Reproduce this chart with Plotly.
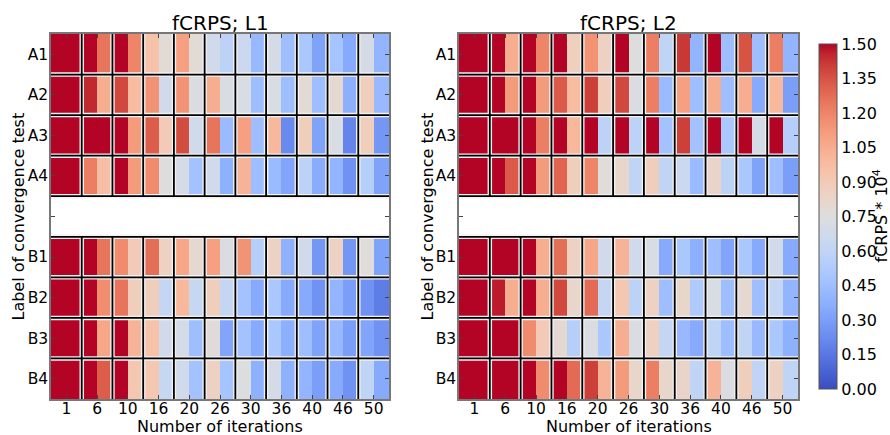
import plotly.graph_objects as go

iterations = ["1", "6", "10", "16", "20", "26", "30", "36", "40", "46", "50"]
row_labels = ["A1", "A2", "A3", "A4", "", "B1", "B2", "B3", "B4"]

# each list: two half-cells per iteration block (11 blocks -> 22 values)
l1_a1 = [1.6, 1.6, 1.55, 1.25, 1.55, 1.2, 0.95, 0.78, 1.1, 0.78, 0.68, 0.58, 0.65, 0.42, 0.7, 0.45, 0.5, 0.32, 0.48, 0.35, 0.7, 0.4]
l1_a2 = [1.6, 1.6, 1.45, 1.05, 1.38, 0.98, 1.15, 0.68, 1.15, 0.73, 1.05, 0.72, 0.72, 0.45, 0.72, 0.45, 0.78, 0.45, 0.8, 0.37, 0.88, 0.42]
l1_a3 = [1.6, 1.6, 1.6, 1.6, 1.55, 1.12, 1.32, 0.9, 1.37, 0.68, 1.25, 0.43, 1.1, 0.45, 1.0, 0.22, 0.88, 0.32, 0.72, 0.2, 0.88, 0.27]
l1_a4 = [1.6, 1.6, 1.22, 0.97, 1.55, 1.12, 1.18, 0.75, 0.7, 0.47, 0.68, 0.38, 1.02, 0.45, 0.43, 0.33, 0.58, 0.36, 0.4, 0.25, 0.55, 0.32]
l1_b1 = [1.6, 1.6, 1.55, 1.25, 1.18, 0.9, 1.27, 0.85, 1.08, 0.8, 1.1, 0.73, 1.15, 0.55, 0.85, 0.38, 0.68, 0.27, 0.85, 0.27, 0.76, 0.32]
l1_b2 = [1.6, 1.6, 1.55, 1.17, 1.25, 0.88, 0.88, 0.62, 1.0, 0.63, 0.88, 0.62, 0.47, 0.35, 0.5, 0.35, 0.35, 0.25, 0.4, 0.3, 0.25, 0.17]
l1_b3 = [1.6, 1.6, 1.55, 1.08, 1.55, 1.02, 0.95, 0.68, 0.7, 0.45, 0.77, 0.33, 0.47, 0.35, 0.5, 0.37, 0.45, 0.32, 0.42, 0.3, 0.33, 0.25]
l1_b4 = [1.6, 1.6, 1.55, 1.32, 1.55, 0.92, 0.92, 0.63, 0.68, 0.47, 0.85, 0.48, 0.74, 0.38, 0.7, 0.38, 0.4, 0.3, 0.35, 0.25, 0.6, 0.35]

l2_a1 = [1.6, 1.6, 1.55, 1.05, 1.55, 1.2, 1.55, 0.87, 1.15, 0.85, 1.55, 0.75, 1.22, 0.6, 1.42, 0.4, 1.55, 0.45, 1.35, 0.45, 1.22, 0.4]
l2_a2 = [1.6, 1.6, 1.55, 1.12, 1.55, 1.12, 1.33, 0.98, 1.4, 0.88, 1.38, 0.73, 1.22, 0.43, 1.1, 0.45, 1.05, 0.45, 1.05, 0.35, 1.0, 0.3]
l2_a3 = [1.6, 1.6, 1.6, 1.6, 1.55, 1.22, 1.55, 1.0, 1.55, 0.58, 1.55, 0.58, 1.55, 0.47, 1.4, 0.47, 1.55, 0.5, 1.55, 0.7, 1.55, 0.55]
l2_a4 = [1.6, 1.6, 1.55, 1.33, 1.55, 1.12, 1.3, 0.88, 1.2, 0.76, 0.82, 0.6, 0.88, 0.6, 0.65, 0.43, 0.83, 0.58, 0.5, 0.32, 0.45, 0.3]
l2_b1 = [1.6, 1.6, 1.6, 1.6, 1.55, 1.05, 1.27, 0.85, 1.08, 0.68, 1.02, 0.68, 0.72, 0.35, 0.5, 0.37, 0.45, 0.33, 0.5, 0.35, 0.68, 0.35]
l2_b2 = [1.6, 1.6, 1.47, 1.05, 1.55, 1.05, 1.38, 0.82, 1.28, 0.62, 0.92, 0.58, 0.85, 0.45, 0.82, 0.52, 0.72, 0.45, 0.8, 0.45, 0.62, 0.4]
l2_b3 = [1.6, 1.6, 1.6, 1.6, 1.18, 0.9, 0.8, 0.55, 0.73, 0.5, 1.05, 0.73, 0.86, 0.62, 0.42, 0.35, 0.6, 0.45, 0.6, 0.42, 0.5, 0.38]
l2_b4 = [1.6, 1.6, 1.6, 1.6, 1.55, 1.18, 1.55, 1.28, 1.4, 1.02, 1.12, 0.82, 1.22, 0.82, 0.83, 0.6, 1.02, 0.73, 0.88, 0.6, 0.85, 0.6]

gap_row = [None] * 22
l1_z = [l1_a1, l1_a2, l1_a3, l1_a4, gap_row, l1_b1, l1_b2, l1_b3, l1_b4]
l2_z = [l2_a1, l2_a2, l2_a3, l2_a4, gap_row, l2_b1, l2_b2, l2_b3, l2_b4]

cw = [
    (59, 76, 192), (68, 90, 204), (77, 104, 215), (87, 117, 225), (98, 130, 234),
    (108, 142, 241), (119, 154, 247), (130, 165, 251), (141, 176, 254), (152, 185, 255),
    (163, 194, 255), (174, 201, 253), (184, 208, 249), (194, 213, 244), (204, 217, 238),
    (213, 219, 230), (221, 221, 221), (229, 216, 209), (236, 211, 197), (241, 204, 185),
    (245, 196, 173), (247, 187, 160), (247, 177, 148), (247, 166, 135), (244, 154, 123),
    (241, 141, 111), (236, 127, 99), (229, 112, 88), (222, 96, 77), (213, 80, 66),
    (203, 62, 56), (192, 40, 47), (180, 4, 38)]
colorscale = [[i / (len(cw) - 1), "rgb(%d,%d,%d)" % c] for i, c in enumerate(cw)]

nb = len(iterations)
xs = [b + 0.25 + 0.5 * h for b in range(nb) for h in range(2)]
ys = list(range(len(row_labels)))

FONT = "DejaVu Sans"
fig = go.Figure()
for i, z in enumerate([l1_z, l2_z]):
    fig.add_trace(go.Heatmap(
        z=z, x=xs, y=ys, colorscale=colorscale, zmin=0, zmax=1.5,
        xaxis="x" if i == 0 else "x2", yaxis="y" if i == 0 else "y2",
        showscale=(i == 1), hoverongaps=False,
        colorbar=dict(
            x=819 / 890, xanchor="left", xpad=0, y=1 - 216.5 / 435, yanchor="middle",
            len=365, lenmode="pixels", thickness=18, thicknessmode="pixels",
            outlinewidth=1, outlinecolor="#555",
            tickvals=[k * 0.15 for k in range(11)],
            ticktext=["%.2f" % (k * 0.15) for k in range(11)],
            ticks="", ticklen=0,
            tickfont=dict(family=FONT, size=16, color="black"),
        ),
    ))

axis_common = dict(showgrid=False, zeroline=False, showline=True, linecolor="#777",
                   linewidth=1.5, mirror="ticks", ticks="inside", ticklen=4,
                   tickcolor="#444", tickfont=dict(family=FONT, size=15.5, color="black"))
doms = [[51 / 890, 389 / 890], [459 / 890, 798 / 890]]
ydom = [1 - 399 / 435, 1 - 34 / 435]
for i, (xa, ya) in enumerate([("xaxis", "yaxis"), ("xaxis2", "yaxis2")]):
    fig.layout[xa] = dict(axis_common, domain=doms[i], range=[0, nb],
                          tickvals=[b + 0.5 for b in range(nb)], ticktext=iterations,
                          ticklabelstandoff=-5,
                          anchor="y" if i == 0 else "y2")
    fig.layout[ya] = dict(axis_common, domain=ydom, range=[len(row_labels) - 0.5, -0.5],
                          tickvals=ys, ticktext=row_labels, ticklabelstandoff=-2,
                          anchor="x" if i == 0 else "x2")

shapes = []
for i in range(2):
    xr, yr = ("x", "y") if i == 0 else ("x2", "y2")
    groups = [(-0.5, 3.5), (4.5, 8.5)]
    for color, w in [("#f2f2f2", 4.5), ("black", 1.8)]:
        for y0, y1 in groups:
            for b in range(1, nb):
                shapes.append(dict(type="line", xref=xr, yref=yr, x0=b, x1=b, y0=y0, y1=y1,
                                   line=dict(color=color, width=w)))
        for r in range(len(row_labels) - 1):
            shapes.append(dict(type="line", xref=xr, yref=yr, x0=0, x1=nb, y0=r + 0.5, y1=r + 0.5,
                               line=dict(color=color, width=w)))
fig.update_layout(shapes=shapes)

ann = []
for i, t in enumerate(["fCRPS; L1", "fCRPS; L2"]):
    cx = (doms[i][0] + doms[i][1]) / 2
    ann.append(dict(text=t, x=cx, y=1 - 23 / 435, xref="paper", yref="paper",
                    showarrow=False, font=dict(family=FONT, size=20, color="black"),
                    xanchor="center", yanchor="middle"))
    ann.append(dict(text="Number of iterations", x=cx, y=0, xref="paper", yref="paper",
                    showarrow=False, font=dict(family=FONT, size=16, color="black"),
                    xanchor="center", yanchor="bottom", borderpad=0, yshift=-2))
    lx = 18 if i == 0 else 427
    ann.append(dict(text="Label of convergence test", x=lx / 890, y=1 - 216.5 / 435,
                    xref="paper", yref="paper", textangle=-90, showarrow=False,
                    font=dict(family=FONT, size=16, color="black"),
                    xanchor="center", yanchor="middle"))
ann.append(dict(text="fCRPS * 10<sup>4</sup>", x=881 / 890, y=1 - 216.5 / 435,
                xref="paper", yref="paper", textangle=-90, showarrow=False,
                font=dict(family=FONT, size=16, color="black"),
                xanchor="center", yanchor="middle"))

fig.update_layout(
    annotations=ann, width=890, height=435,
    margin=dict(l=0, r=0, t=0, b=0),
    paper_bgcolor="white", plot_bgcolor="white", showlegend=False,
    font=dict(family=FONT, color="black"),
)
fig.write_html("out.html")
